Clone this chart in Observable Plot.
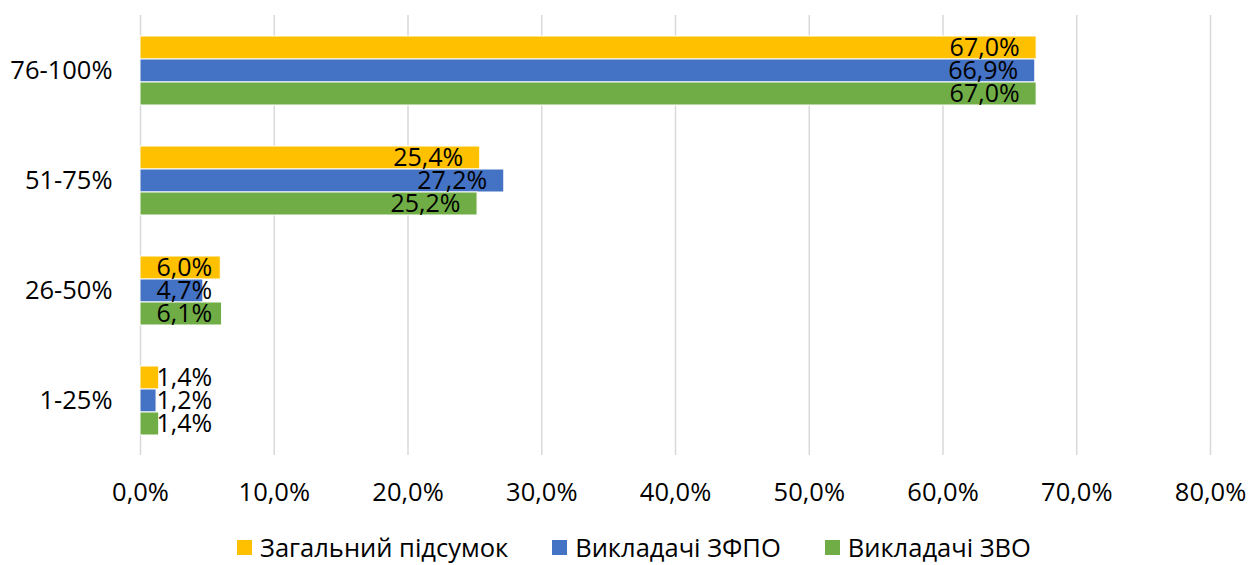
<!DOCTYPE html>
<html>
<head>
<meta charset="utf-8">
<script src="https://cdn.jsdelivr.net/npm/d3@7"></script>
<script src="https://cdn.jsdelivr.net/npm/@observablehq/plot@0.6"></script>
<style>
  body { margin: 0; background: #fff; font-family: "Open Sans", sans-serif; }
  #legend { display: flex; justify-content: center; align-items: center; gap: 44px; font-size: 25.5px; color: #000; margin-top: 10px; padding-left: 10px; }
  .item { display: flex; align-items: center; }
  .sw { width: 15px; height: 15px; margin-right: 8px; }
</style>
</head>
<body>
<div id="chart"></div>
<div id="legend"></div>
<script>
const categories = ["76-100%", "51-75%", "26-50%", "1-25%"];
const series = ["Загальний підсумок", "Викладачі ЗФПО", "Викладачі ЗВО"];
const colors = ["#FFC000", "#4472C4", "#70AD47"];
const totalValues = [67.0, 25.4, 6.0, 1.4];
const zfpoValues = [66.9, 27.2, 4.7, 1.2];
const zvoValues = [67.0, 25.2, 6.1, 1.4];
const xTicks = [0, 10, 20, 30, 40, 50, 60, 70, 80];

const seriesValues = [totalValues, zfpoValues, zvoValues];
const data = categories.flatMap((c, i) => series.map((s, j) => ({category: c, series: s, value: seriesValues[j][i]})));
const fmt = v => v.toFixed(1).replace(".", ",") + "%";

const chart = Plot.plot({
  width: 1258,
  height: 520,
  marginLeft: 140,
  marginRight: 48,
  marginTop: 15,
  marginBottom: 65,
  style: {fontFamily: "Open Sans", fontSize: "25.5px", color: "#000", background: "#fff"},
  x: {domain: [0, 80], ticks: xTicks, tickFormat: fmt, tickSize: 0, tickPadding: 27, label: null},
  fy: {domain: categories, padding: 0, label: null, axis: "left", tickSize: 0, tickPadding: 28},
  y: {domain: series, paddingInner: 0, paddingOuter: 0.89, axis: null},
  color: {domain: series, range: colors},
  marks: [
    Plot.gridX(xTicks, {stroke: "#d9d9d9", strokeOpacity: 1, strokeWidth: 1.5}),
    Plot.barX(data, {x: "value", y: "series", fy: "category", fill: "series", stroke: "white", strokeWidth: 1}),
    Plot.text(data, {filter: d => d.value >= 10, x: "value", y: "series", fy: "category", text: d => fmt(d.value), textAnchor: "end", dx: -17, fill: "#000", fontSize: 25}),
    Plot.text(data, {filter: d => d.value < 10, x: () => 0, y: "series", fy: "category", text: d => fmt(d.value), textAnchor: "start", dx: 16, fill: "#000", fontSize: 25})
  ]
});
document.getElementById("chart").appendChild(chart);

const legend = document.getElementById("legend");
series.forEach((s, i) => {
  const item = document.createElement("div");
  item.className = "item";
  const sw = document.createElement("div");
  sw.className = "sw";
  sw.style.background = colors[i];
  const t = document.createElement("span");
  t.textContent = s;
  item.appendChild(sw);
  item.appendChild(t);
  legend.appendChild(item);
});
</script>
</body>
</html>
